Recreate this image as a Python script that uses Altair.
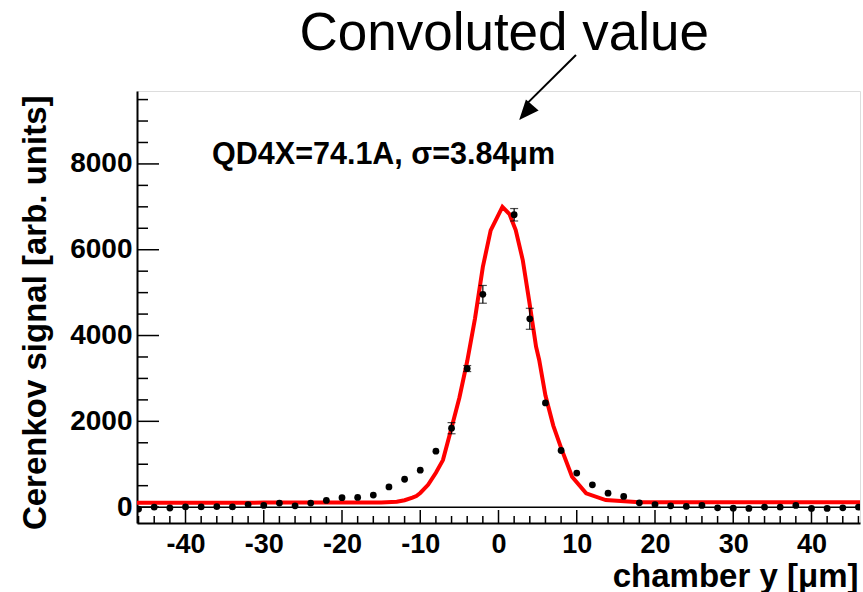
import altair as alt
import pandas as pd

# ---------------- data ----------------
x_pos = [-46, -44, -42, -40, -38, -36, -34, -32, -30, -28, -26, -24, -22, -20, -18, -16,
         -14, -12, -10, -8, -6, -4, -2, 2, 4, 6, 8, 10, 12, 14, 16, 18, 20, 22, 24, 26,
         28, 30, 32, 34, 36, 38, 40, 42, 44, 46]
signal = [-45, 0, -20, 5, 5, 10, 5, 60, 40, 95, 30, 95, 155, 220, 225, 280,
          470, 650, 860, 1305, 1840, 3230, 4960, 6815, 4390, 2430, 1320, 795, 520, 325, 250, 100,
          60, 30, 15, 40, -15, -25, -30, 0, 0, 40, -30, -30, -15, 0]
signal_err = [0, 0, 0, 0, 0, 0, 0, 0, 0, 0, 0, 0, 0, 0, 0, 0,
              0, 0, 0, 0, 130, 70, 207, 145, 245, 0, 0, 0, 0, 0, 0, 0,
              0, 0, 0, 0, 0, 0, 0, 0, 0, 0, 0, 0, 0, 0]

curve_x = [-46.2, -30, -20, -15, -13, -12, -11, -10.5, -10, -9, -8, -7.1, -6, -5, -4, -3,
           -2, -1, 0.5, 1.4, 2.2, 3.1, 3.9, 4.8, 5.2, 6, 7, 8, 9.4, 11.2, 13.7, 18, 30, 46.2]
curve_y = [100, 105, 105, 110, 125, 160, 220, 260, 330, 520, 800, 1096, 1850, 2550, 3400, 4400,
           5600, 6450, 7000, 6830, 6460, 5760, 4830, 3740, 3430, 2600, 1900, 1380, 710, 320, 165, 115, 115, 115]

x_major = [-40, -30, -20, -10, 0, 10, 20, 30, 40]
x_minor = [v for v in range(-46, 47, 2) if v % 10 != 0]
y_major = [0, 2000, 4000, 6000, 8000]
y_minor = [v for v in range(500, 9700, 500) if v % 2000 != 0]

title_text = "Convoluted value"
label_text = "QD4X=74.1A, \u03c3=3.84\u03bcm"

# ---------------- layout ----------------
W, H = 723, 432
FONT = "Liberation Sans"
X_DOM = [-46.2, 46.2]
Y_DOM = [-370, 9700]

xscale = alt.Scale(domain=X_DOM, nice=False, zero=False)
yscale = alt.Scale(domain=Y_DOM, nice=False, zero=False)

x_axis = alt.Axis(values=x_major, ticks=False, tickSize=0, grid=False, labelPadding=8,
                  labelExpr="'' + datum.value", labelFont=FONT, labelFontSize=27,
                  labelFontWeight="bold", labelColor="black", domainColor="black",
                  domainWidth=2, title="chamber y [\u03bcm]", titleFont=FONT,
                  titleFontSize=33, titleFontWeight="bold", titleColor="black",
                  titleAlign="right", titleAnchor="end", titleX=W - 2, titleY=63,
                  titleBaseline="alphabetic", labelFlush=False)
y_axis = alt.Axis(values=y_major, ticks=False, tickSize=0, grid=False, labelPadding=5,
                  labelExpr="'' + datum.value", labelFont=FONT, labelFontSize=28,
                  labelFontWeight="bold", labelColor="black", domainColor="black",
                  domainWidth=2, title="Cerenkov signal [arb. units]", titleFont=FONT,
                  titleFontSize=33, titleFontWeight="bold", titleColor="black",
                  titleAngle=-90, titleAlign="right", titleX=-92, titleY=4,
                  titleBaseline="alphabetic", labelFlush=False)


def X(field):
    return alt.X(field, type="quantitative", scale=xscale, axis=x_axis)


def Y(field):
    return alt.Y(field, type="quantitative", scale=yscale, axis=y_axis)


pts = pd.DataFrame({"x": x_pos, "y": signal, "e": signal_err})
pts["lo"] = pts["y"] - pts["e"]
pts["hi"] = pts["y"] + pts["e"]
curve = pd.DataFrame({"x": curve_x, "y": curve_y, "i": list(range(len(curve_x)))})

base_pts = alt.Chart(pts)
base_err = alt.Chart(pts).transform_filter("datum.e > 0")

zero_line = alt.Chart(pd.DataFrame({"z": [0]})).mark_rule(color="black", strokeWidth=1.5).encode(
    y=Y("z"), x=alt.value(0), x2=alt.value(W))

err_bars = base_err.mark_rule(color="black", strokeWidth=1.2, clip=True).encode(
    x=X("x"), y=Y("lo"), y2="hi")
cap_lo = base_err.mark_tick(color="black", thickness=1.2, size=8, orient="horizontal", clip=True).encode(
    x=X("x"), y=Y("lo"))
cap_hi = base_err.mark_tick(color="black", thickness=1.2, size=8, orient="horizontal", clip=True).encode(
    x=X("x"), y=Y("hi"))
dots = base_pts.mark_circle(color="black", size=46, opacity=1, clip=True).encode(
    x=X("x"), y=Y("y"))

line = alt.Chart(curve).mark_line(color="#ff0000", strokeWidth=4, clip=True).encode(
    x=X("x"), y=Y("y"), order="i:Q")

xmaj = alt.Chart(pd.DataFrame({"t": x_major})).mark_rule(color="black", strokeWidth=1.5).encode(
    x=X("t"), y=alt.value(H), y2=alt.value(H - 13))
xmin = alt.Chart(pd.DataFrame({"t": x_minor})).mark_rule(color="black", strokeWidth=1.5).encode(
    x=X("t"), y=alt.value(H), y2=alt.value(H - 7))
ymaj = alt.Chart(pd.DataFrame({"t": y_major})).mark_rule(color="black", strokeWidth=1.5).encode(
    y=Y("t"), x=alt.value(0), x2=alt.value(22))
ymin = alt.Chart(pd.DataFrame({"t": y_minor})).mark_rule(color="black", strokeWidth=1.5).encode(
    y=Y("t"), x=alt.value(0), x2=alt.value(11))

# annotations (data coordinates)
ann = pd.DataFrame({"x": [-36.6], "y": [8000], "t": [label_text]})
label = alt.Chart(ann).mark_text(align="left", baseline="alphabetic", font=FONT, fontSize=30.5,
                                 fontWeight="bold", color="black").encode(
    x=X("x"), y=Y("y"), text="t:N")

ttl = pd.DataFrame({"x": [0.73], "y": [10655], "t": [title_text]})
title = alt.Chart(ttl).mark_text(align="center", baseline="alphabetic", font=FONT, fontSize=53,
                                 color="black").encode(
    x=X("x"), y=Y("y"), text="t:N")

arrow_df = pd.DataFrame({"x": [9.9], "y": [10540], "x2": [3.6], "y2": [9400]})
arrow_line = alt.Chart(arrow_df).mark_rule(color="black", strokeWidth=2).encode(
    x=X("x"), y=Y("y"), x2="x2", y2="y2")
tip_df = pd.DataFrame({"x": [2.64], "y": [9023]})
arrow_head = alt.Chart(tip_df).mark_point(shape="M0,0L0.42,1L-0.42,1Z", filled=True, color="black",
                                          opacity=1, size=1600, angle=221).encode(
    x=X("x"), y=Y("y"))

chart = alt.layer(
    zero_line, line, err_bars, cap_lo, cap_hi, dots, xmaj, xmin, ymaj, ymin,
    label, title, arrow_line, arrow_head
).properties(
    width=W, height=H,
    autosize=alt.AutoSizeParams(type="none"),
    padding={"left": 137, "top": 91, "right": 3, "bottom": 69},
).configure_view(
    stroke="black", strokeWidth=1.5
).configure(background="white")

chart.save("out.html", embed_options={"renderer": "svg", "actions": False})
